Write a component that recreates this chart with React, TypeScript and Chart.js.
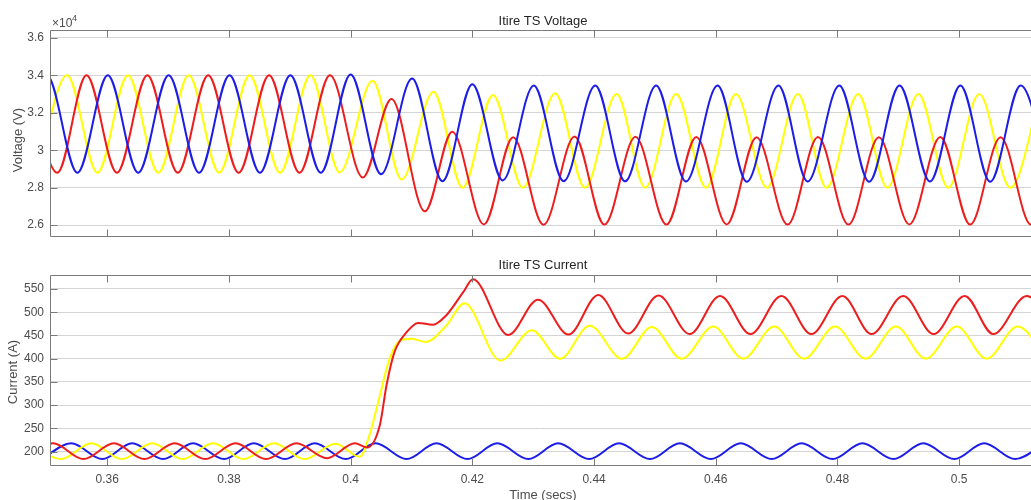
import React, { useEffect, useRef } from "react";
import { Chart, registerables } from "chart.js";

Chart.register(...registerables);

const FONT = '"Liberation Sans", Arial, Helvetica, sans-serif';
const AXIS_COLOR = "#7a7a7a";
const GRID_COLOR = "#d4d4d4";
const TICK_TEXT = "#4d4d4d";
const RED = "#ee1d1d";
const YELLOW = "#ffff00";
const BLUE = "#1d1de8";

// ---- axes ----
const timeMin = 0.3506;
const timeMax = 0.5118;
const timeTicks = [0.36, 0.38, 0.4, 0.42, 0.44, 0.46, 0.48, 0.5];
const timeTickLabels = ["0.36", "0.38", "0.4", "0.42", "0.44", "0.46", "0.48", "0.5"];
const voltageTicks = [26000, 28000, 30000, 32000, 34000, 36000];
const voltageTickLabels = ["2.6", "2.8", "3", "3.2", "3.4", "3.6"];
const currentTicks = [200, 250, 300, 350, 400, 450, 500, 550];

// ---- voltage (V): turning points of each phase ----
const voltageRedT = [
  0.3468, 0.3518, 0.3566, 0.3616, 0.3666, 0.3716, 0.3766, 0.3816, 0.3866, 0.3916,
  0.3966, 0.402, 0.4067, 0.4122, 0.4167, 0.4219, 0.4267, 0.4317, 0.4368, 0.4417,
  0.4468, 0.4519, 0.4568, 0.4618, 0.4667, 0.4718, 0.4768, 0.4818, 0.4868, 0.4918,
  0.4969, 0.5018, 0.5068, 0.5118, 0.5168,
];
const voltageRedV = [
  34000, 28800, 34000, 28800, 34000, 28800, 34000, 28800, 34000, 28800,
  34000, 28550, 32740, 26740, 30990, 26040, 30700, 26020, 30740, 26030,
  30720, 26030, 30710, 26040, 30700, 26030, 30710, 26030, 30700, 26040,
  30710, 26030, 30700, 26030, 30700,
];
const voltageYellowT = [
  0.3484, 0.3534, 0.3584, 0.3634, 0.3684, 0.3734, 0.3784, 0.3834, 0.3884, 0.3934,
  0.3982, 0.4036, 0.4084, 0.4136, 0.4184, 0.4234, 0.4283, 0.4336, 0.4385, 0.4437,
  0.4484, 0.4535, 0.4584, 0.4633, 0.4684, 0.4735, 0.4782, 0.4834, 0.4882, 0.4933,
  0.4982, 0.5033, 0.5084, 0.5134,
];
const voltageYellowV = [
  28800, 34000, 28800, 34000, 28800, 34000, 28800, 34000, 28800, 34000,
  28820, 33710, 28440, 33120, 28000, 32950, 28000, 33040, 28000, 33000,
  28000, 33000, 28000, 33000, 28000, 33000, 28000, 33000, 28000, 33000,
  28000, 33000, 28000, 33000,
];
const voltageBlueT = [
  0.3451, 0.3501, 0.3551, 0.3601, 0.3651, 0.3701, 0.3751, 0.3801, 0.3851, 0.3901,
  0.3951, 0.4, 0.405, 0.4101, 0.4151, 0.42, 0.425, 0.4301, 0.435, 0.4402,
  0.4451, 0.4502, 0.4551, 0.4603, 0.4651, 0.4703, 0.4751, 0.4803, 0.4852, 0.4902,
  0.4952, 0.5002, 0.5051, 0.5101, 0.5151,
];
const voltageBlueV = [
  28800, 34000, 28800, 34000, 28800, 34000, 28800, 34000, 28800, 34000,
  28800, 34050, 28720, 33830, 28350, 33530, 28390, 33460, 28350, 33460,
  28340, 33460, 28330, 33460, 28320, 33460, 28330, 33460, 28320, 33460,
  28330, 33460, 28320, 33460, 28320,
];

// ---- current (A): turning points and step response of each phase ----
const currentRedT = [
  0.3461, 0.3511, 0.3561, 0.3611, 0.3661, 0.3711, 0.3761, 0.3811, 0.3861, 0.3911,
  0.3961, 0.4007, 0.4027, 0.4048, 0.4059, 0.4072, 0.4092, 0.4111, 0.4135, 0.4157,
  0.4185, 0.4201, 0.4259, 0.4308, 0.4358, 0.4407, 0.4456, 0.4506, 0.4557, 0.4607,
  0.4657, 0.4708, 0.4757, 0.4808, 0.4856, 0.4908, 0.4958, 0.5009, 0.5056, 0.5111,
  0.5161,
];
const currentRedV = [
  184, 218, 184, 218, 184, 218, 184, 218, 184, 218,
  186, 218, 209, 257, 343, 414, 457, 477, 473, 493,
  543, 571, 451, 527, 452, 537, 454, 536, 453, 535,
  453, 535, 453, 535, 453, 535, 453, 535, 453, 535,
  453,
];
const currentYellowT = [
  0.3474, 0.3524, 0.3574, 0.3624, 0.3674, 0.3724, 0.3774, 0.3824, 0.3874, 0.3924,
  0.3975, 0.4015, 0.4031, 0.4048, 0.4064, 0.4081, 0.41, 0.4124, 0.4157, 0.4187,
  0.4246, 0.4298, 0.4344, 0.4393, 0.4446, 0.4495, 0.4544, 0.4596, 0.4645, 0.4696,
  0.4745, 0.4796, 0.4846, 0.4896, 0.4945, 0.4996, 0.5045, 0.5096, 0.5145,
];
const currentYellowV = [
  218, 184, 218, 184, 218, 184, 218, 184, 218, 184,
  217, 189, 236, 321, 400, 439, 443, 436, 471, 519,
  396, 461, 400, 471, 400, 468, 400, 469, 400, 469,
  400, 469, 400, 469, 400, 469, 400, 469, 400,
];
const currentBlueT = [
  0.3492, 0.3541, 0.3592, 0.3641, 0.3692, 0.3741, 0.3792, 0.3841, 0.3892, 0.3941,
  0.3992, 0.4041, 0.4092, 0.4141, 0.4192, 0.4241, 0.4292, 0.4341, 0.4392, 0.4441,
  0.4492, 0.4541, 0.4592, 0.4641, 0.4692, 0.4741, 0.4792, 0.4841, 0.4892, 0.4941,
  0.4992, 0.5041, 0.5092, 0.5141,
];
const currentBlueV = [
  184, 218, 184, 218, 184, 218, 184, 218, 184, 218,
  184, 218, 184, 218, 184, 218, 184, 218, 184, 218,
  184, 218, 184, 218, 184, 218, 184, 218, 184, 218,
  184, 218, 184, 218,
];

const points = (t: number[], v: number[]) => t.map((x, i) => ({ x, y: v[i] }));

const line = (t: number[], v: number[], color: string, order: number) => ({
  data: points(t, v),
  borderColor: color,
  backgroundColor: color,
  borderWidth: 2,
  pointRadius: 0,
  fill: false,
  cubicInterpolationMode: "monotone" as const,
  order,
});

// Draws the MATLAB-style box, inward ticks and the panel texts.
const framePlugin = {
  id: "frame",
  afterDraw(chart: any, _args: any, opts: any) {
    const { ctx, chartArea: a, scales } = chart;
    const xs = scales.x;
    const ys = scales.y;
    const L = Math.round(a.left) + 0.5;
    const T = Math.round(a.top) + 0.5;
    const B = Math.round(a.bottom) - 0.5;
    const R = a.right + 2;
    ctx.save();
    ctx.strokeStyle = AXIS_COLOR;
    ctx.lineWidth = 1;
    ctx.beginPath();
    ctx.moveTo(R, T);
    ctx.lineTo(L, T);
    ctx.lineTo(L, B);
    ctx.lineTo(R, B);
    for (const v of timeTicks) {
      const px = Math.round(xs.getPixelForValue(v)) + 0.5;
      ctx.moveTo(px, T);
      ctx.lineTo(px, T + 7);
      ctx.moveTo(px, B);
      ctx.lineTo(px, B - 7);
    }
    for (const v of opts.yTicks) {
      const py = Math.round(ys.getPixelForValue(v)) + 0.5;
      ctx.moveTo(L, py);
      ctx.lineTo(L + 7, py);
    }
    ctx.stroke();

    ctx.fillStyle = "#262626";
    ctx.textAlign = "center";
    ctx.textBaseline = "middle";
    ctx.font = `13px ${FONT}`;
    ctx.fillText(opts.title, opts.titleX, opts.titleY);

    ctx.save();
    ctx.translate(opts.yLabelX, opts.yLabelY);
    ctx.rotate(-Math.PI / 2);
    ctx.fillStyle = TICK_TEXT;
    ctx.fillText(opts.yLabel, 0, 0);
    ctx.restore();

    if (opts.xLabel) {
      ctx.fillStyle = TICK_TEXT;
      ctx.fillText(opts.xLabel, opts.xLabelX, opts.xLabelY);
    }
    if (opts.exponent) {
      ctx.fillStyle = TICK_TEXT;
      ctx.textAlign = "left";
      ctx.textBaseline = "alphabetic";
      ctx.font = `12px ${FONT}`;
      ctx.fillText("\u00d710", 52, 27);
      ctx.font = `9px ${FONT}`;
      ctx.fillText(opts.exponent, 72, 21);
    }
    ctx.restore();
  },
};

function makeOptions(cfg: {
  yMin: number;
  yMax: number;
  yTicks: number[];
  yLabels?: string[];
  top: number;
  xHeight: number;
  showX: boolean;
  frame: any;
}) {
  return {
    responsive: false,
    animation: false as const,
    devicePixelRatio: 1,
    events: [],
    layout: { padding: { top: cfg.top, left: 0, right: 0, bottom: 0 } },
    plugins: {
      legend: { display: false },
      tooltip: { enabled: false },
      title: { display: false },
      frame: { yTicks: cfg.yTicks, ...cfg.frame },
    },
    scales: {
      x: {
        type: "linear" as const,
        min: timeMin,
        max: timeMax,
        afterBuildTicks: (s: any) => {
          s.ticks = timeTicks.map((value) => ({ value }));
        },
        afterFit: (s: any) => {
          s.height = cfg.xHeight;
        },
        grid: { display: false, drawTicks: false },
        border: { display: false },
        ticks: {
          display: cfg.showX,
          padding: 6,
          maxRotation: 0,
          autoSkip: false,
          color: TICK_TEXT,
          font: { family: FONT, size: 12 },
          callback: (v: number) => {
            const i = timeTicks.findIndex((t) => Math.abs(t - v) < 1e-9);
            return i >= 0 ? timeTickLabels[i] : "";
          },
        },
      },
      y: {
        type: "linear" as const,
        min: cfg.yMin,
        max: cfg.yMax,
        afterBuildTicks: (s: any) => {
          s.ticks = cfg.yTicks.map((value) => ({ value }));
        },
        afterFit: (s: any) => {
          s.width = 50;
        },
        grid: { color: GRID_COLOR, lineWidth: 1, drawTicks: false },
        border: { display: false },
        ticks: {
          padding: 6,
          autoSkip: false,
          color: TICK_TEXT,
          font: { family: FONT, size: 12 },
          callback: (v: number) => {
            const i = cfg.yTicks.indexOf(v);
            if (cfg.yLabels && i >= 0) return cfg.yLabels[i];
            return String(v);
          },
        },
      },
    },
  };
}

function Panel(props: { datasets: any[]; options: any; top: number }) {
  const ref = useRef<HTMLCanvasElement | null>(null);
  useEffect(() => {
    if (!ref.current) return;
    const chart = new Chart(ref.current, {
      type: "line",
      data: { datasets: props.datasets },
      options: props.options,
      plugins: [framePlugin],
    } as any);
    return () => chart.destroy();
  }, []);
  return (
    <canvas
      ref={ref}
      width={1031}
      height={250}
      style={{ position: "absolute", left: 0, top: props.top, width: 1031, height: 250 }}
    />
  );
}

export default function App() {
  const voltageSets = [
    line(voltageYellowT, voltageYellowV, YELLOW, 2),
    line(voltageRedT, voltageRedV, RED, 1),
    line(voltageBlueT, voltageBlueV, BLUE, 0),
  ];
  const currentSets = [
    line(currentYellowT, currentYellowV, YELLOW, 1),
    line(currentRedT, currentRedV, RED, 0),
    line(currentBlueT, currentBlueV, BLUE, 2),
  ];
  const voltageOptions = makeOptions({
    yMin: 25380,
    yMax: 36420,
    yTicks: voltageTicks,
    yLabels: voltageTickLabels,
    top: 30,
    xHeight: 1,
    showX: false,
    frame: {
      title: "Itire TS Voltage",
      titleX: 543,
      titleY: 21,
      yLabel: "Voltage (V)",
      yLabelX: 18,
      yLabelY: 140,
      exponent: "4",
    },
  });
  const currentOptions = makeOptions({
    yMin: 169.2,
    yMax: 580,
    yTicks: currentTicks,
    top: 25,
    xHeight: 34,
    showX: true,
    frame: {
      title: "Itire TS Current",
      titleX: 543,
      titleY: 15,
      yLabel: "Current (A)",
      yLabelX: 13,
      yLabelY: 122,
      xLabel: "Time (secs)",
      xLabelX: 543,
      xLabelY: 245,
    },
  });
  return (
    <div
      style={{
        position: "absolute",
        left: 0,
        top: 0,
        width: 1031,
        height: 500,
        overflow: "hidden",
        background: "#ffffff",
      }}
    >
      <Panel datasets={voltageSets} options={voltageOptions} top={0} />
      <Panel datasets={currentSets} options={currentOptions} top={250} />
    </div>
  );
}
